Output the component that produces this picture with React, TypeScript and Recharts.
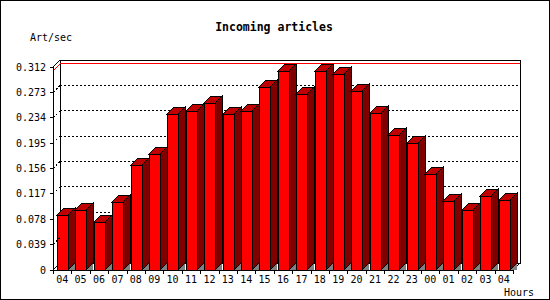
import { BarChart, Bar, XAxis, YAxis, CartesianGrid, ReferenceLine } from "recharts";

const hours = ["04", "05", "06", "07", "08", "09", "10", "11", "12", "13", "14", "15", "16", "17", "18", "19", "20", "21", "22", "23", "00", "01", "02", "03", "04"];
const artPerSec = [0.084, 0.092, 0.074, 0.104, 0.162, 0.179, 0.239, 0.245, 0.256, 0.239, 0.245, 0.281, 0.306, 0.27, 0.306, 0.301, 0.275, 0.242, 0.207, 0.195, 0.147, 0.106, 0.092, 0.113, 0.107];
const yTicks = [0, 0.039, 0.078, 0.117, 0.156, 0.195, 0.234, 0.273, 0.312];

// frame layout (px)
const W = 550;
const H = 300;
const LEFT = 53;
const TOP = 67;
const RIGHT = 513;
const BOTTOM = 270;
const D = 7; // 3d depth
const BAND = (RIGHT - LEFT) / hours.length;
const FONT = "'DejaVu Sans Mono', monospace";

const data = hours.map((hour, i) => ({ hour, v: artPerSec[i] }));
const maxVal = Math.max(...artPerSec);

function Bar3D(props: any) {
  const { x, y, width, height } = props;
  if (height == null || width == null) return null;
  const x0 = Math.round(x);
  const y0 = Math.round(y);
  const w = Math.round(width);
  const b = Math.round(y + height);
  const xr = x0 + w;
  return (
    <g shapeRendering="crispEdges">
      <polygon points={`${xr},${b} ${xr + D},${b - D} ${xr + D},${b}`} fill="#808080" />
      <polygon
        points={`${xr},${y0} ${xr + D},${y0 - D} ${xr + D},${b - D} ${xr},${b}`}
        fill="#800000"
        stroke="#000"
      />
      <polygon
        points={`${x0},${y0} ${x0 + D},${y0 - D} ${xr + D},${y0 - D} ${xr},${y0}`}
        fill="#C00000"
        stroke="#000"
      />
      <rect x={x0} y={y0} width={w} height={b - y0} fill="#FF0000" stroke="#000" />
    </g>
  );
}

function GridLine(props: any) {
  const { x1, y1, x2, y2, index } = props;
  return (
    <line
      key={`g${index}`}
      x1={x1 + D}
      y1={y1 - D}
      x2={x2 + D}
      y2={y2 - D}
      stroke="#000"
      strokeDasharray="2 2"
      shapeRendering="crispEdges"
    />
  );
}

function MaxLine(props: any) {
  const { x1, y1, x2, y2 } = props;
  return (
    <g stroke="#FF0000" shapeRendering="crispEdges">
      <line x1={x1 + D} y1={y1 - D} x2={x2 + D} y2={y2 - D} />
      <line x1={x1} y1={y1} x2={x1 + D} y2={y1 - D} />
    </g>
  );
}

function YTick(props: any) {
  const { y, payload } = props;
  const v = payload.value as number;
  const label = v === 0 ? "0" : v.toFixed(3);
  return (
    <g>
      <text x={LEFT - 7} y={y + 3.5} textAnchor="end" fontFamily={FONT} fontSize={10} fill="#000">
        {label}
      </text>
      {v > 0 && v < yTicks[yTicks.length - 1] && (
        <line
          x1={LEFT}
          y1={y}
          x2={LEFT + D}
          y2={y - D}
          stroke="#000"
          strokeDasharray="2 2"
          shapeRendering="crispEdges"
        />
      )}
    </g>
  );
}

function XTick(props: any) {
  const { x, payload, index } = props;
  const left = Math.round(x - BAND / 2);
  const right = Math.round(x + BAND / 2);
  return (
    <g>
      <line x1={left} y1={BOTTOM} x2={left} y2={BOTTOM + 4} stroke="#000" shapeRendering="crispEdges" />
      {index === hours.length - 1 && (
        <line x1={right} y1={BOTTOM} x2={right} y2={BOTTOM + 4} stroke="#000" shapeRendering="crispEdges" />
      )}
      <text x={x} y={BOTTOM + 13} textAnchor="middle" fontFamily={FONT} fontSize={10} fill="#000">
        {payload.value}
      </text>
    </g>
  );
}

export default function App() {
  return (
    <div style={{ position: "absolute", left: 0, top: 0, width: W, height: H, background: "#fff" }}>
      <style>{`.recharts-surface line { shape-rendering: crispEdges; }`}</style>
      <svg
        width={W}
        height={H}
        style={{ position: "absolute", left: 0, top: 0 }}
        shapeRendering="crispEdges"
      >
        <rect x={0.5} y={0.5} width={W - 1} height={H - 1} fill="#fff" stroke="#000" />
        <text x={274} y={31} textAnchor="middle" fontFamily={FONT} fontWeight="bold" fontSize={11.5} fill="#000">
          Incoming articles
        </text>
        <text x={30} y={40.5} fontFamily={FONT} fontSize={10} fill="#000">
          Art/sec
        </text>
        <text x={504} y={295.5} fontFamily={FONT} fontSize={10} fill="#000">
          Hours
        </text>
        <g stroke="#000" fill="none">
          <rect x={LEFT + D} y={TOP - D} width={RIGHT - LEFT} height={BOTTOM - TOP} />
          <line x1={LEFT} y1={TOP} x2={LEFT + D} y2={TOP - D} />
          <line x1={LEFT} y1={BOTTOM} x2={LEFT + D} y2={BOTTOM - D} />
          <line x1={RIGHT} y1={BOTTOM} x2={RIGHT + D} y2={BOTTOM - D} />
        </g>
      </svg>
      <div style={{ position: "absolute", left: 0, top: 0 }}>
        <BarChart
          width={W}
          height={H}
          data={data}
          margin={{ top: TOP, right: W - RIGHT, bottom: 0, left: 0 }}
        >
          <CartesianGrid vertical={false} horizontal={GridLine} />
          <ReferenceLine y={maxVal} shape={MaxLine} />
          <XAxis
            dataKey="hour"
            height={H - BOTTOM}
            interval={0}
            tickLine={false}
            axisLine={{ stroke: "#000" }}
            tick={XTick}
          />
          <YAxis
            width={LEFT}
            domain={[0, yTicks[yTicks.length - 1]]}
            ticks={yTicks}
            tickSize={3}
            tickMargin={4}
            tickLine={{ stroke: "#000" }}
            axisLine={{ stroke: "#000" }}
            tick={YTick}
          />
          <Bar dataKey="v" barSize={11} shape={Bar3D} isAnimationActive={false} />
        </BarChart>
      </div>
    </div>
  );
}
